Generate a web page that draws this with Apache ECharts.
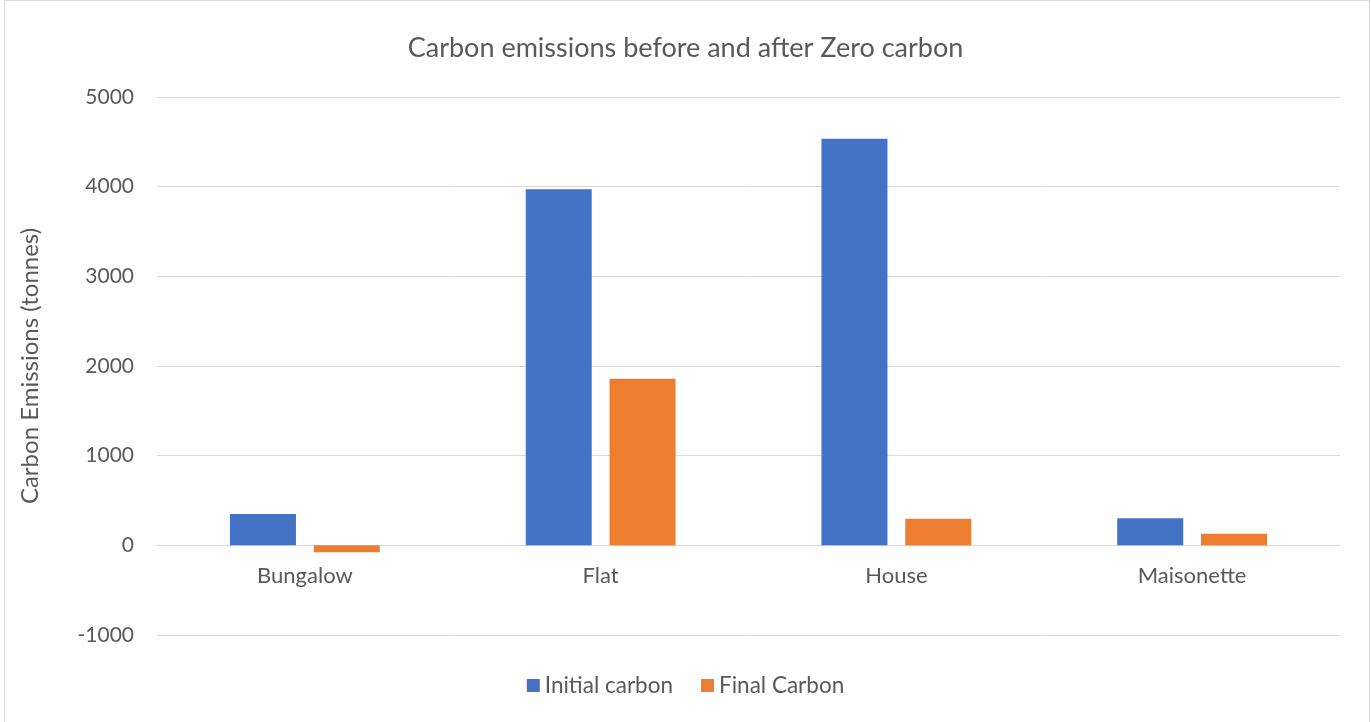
<!DOCTYPE html>
<html>
<head>
<meta charset="utf-8">
<script src="https://cdn.jsdelivr.net/npm/echarts@6/dist/echarts.min.js"></script>
<style>
  html, body { margin: 0; padding: 0; background: #ffffff; }
  #chart { width: 1371px; height: 722px; }
</style>
</head>
<body>
<div id="chart"></div>
<script>
// Dwelling types and emissions (tonnes) before/after the zero-carbon programme
const categories = ['Bungalow', 'Flat', 'House', 'Maisonette'];
const initialCarbon = [350, 3970, 4535, 303];
const finalCarbon = [-78, 1858, 296, 128];
const seriesNames = ['Initial carbon', 'Final Carbon'];
const titleText = 'Carbon emissions before and after Zero carbon';
const yAxisName = 'Carbon Emissions (tonnes)';
const yMin = -1000, yMax = 5000, yStep = 1000;

const FONT = 'Lato, "Liberation Sans", sans-serif';
const TEXT = '#595959';

const W = 1371, H = 722;
const grid = { left: 157, right: 31, top: 97, bottom: 87 };
// Shift the category axis up so it sits on the zero line of the value axis
const plotH = H - grid.top - grid.bottom;
const zeroOffset = -plotH * (0 - yMin) / (yMax - yMin);

const chart = echarts.init(document.getElementById('chart'), null, { renderer: 'canvas' });
chart.setOption({
  backgroundColor: '#ffffff',
  animation: false,
  title: {
    text: titleText,
    left: 'center',
    top: 30,
    textStyle: { color: TEXT, fontFamily: FONT, fontSize: 27, fontWeight: 'normal' }
  },
  legend: {
    bottom: 20,
    left: 'center',
    itemWidth: 13,
    itemHeight: 13,
    itemGap: 28,
    icon: 'rect',
    textStyle: { color: TEXT, fontFamily: FONT, fontSize: 22.5 },
    data: seriesNames
  },
  grid: Object.assign({ containLabel: false }, grid),
  xAxis: {
    type: 'category',
    data: categories,
    offset: zeroOffset,
    axisLine: { show: true, onZero: false, lineStyle: { color: '#d9d9d9', width: 1 } },
    axisTick: { show: false },
    axisLabel: { show: true, color: TEXT, fontFamily: FONT, fontSize: 22, margin: 20 },
    splitLine: { show: false }
  },
  yAxis: {
    type: 'value',
    min: yMin,
    max: yMax,
    interval: yStep,
    name: yAxisName,
    nameLocation: 'middle',
    nameGap: 115,
    nameTextStyle: { color: TEXT, fontFamily: FONT, fontSize: 24 },
    axisLine: { show: false },
    axisTick: { show: false },
    axisLabel: { color: TEXT, fontFamily: FONT, fontSize: 21, margin: 23, formatter: v => String(v) },
    splitLine: { lineStyle: { color: '#d9d9d9', width: 1 } }
  },
  graphic: [{
    type: 'rect',
    silent: true,
    z: -10,
    shape: { x: 4.5, y: 0.5, width: 1365, height: 730 },
    style: { fill: 'none', stroke: '#d9d9d9', lineWidth: 1 }
  }],
  series: [
    {
      name: seriesNames[0],
      type: 'bar',
      data: initialCarbon,
      barWidth: 66,
      barGap: '27%',
      itemStyle: { color: '#4472c4' }
    },
    {
      name: seriesNames[1],
      type: 'bar',
      data: finalCarbon,
      barWidth: 66,
      barGap: '27%',
      itemStyle: { color: '#ed7d31' }
    }
  ]
});
</script>
</body>
</html>
